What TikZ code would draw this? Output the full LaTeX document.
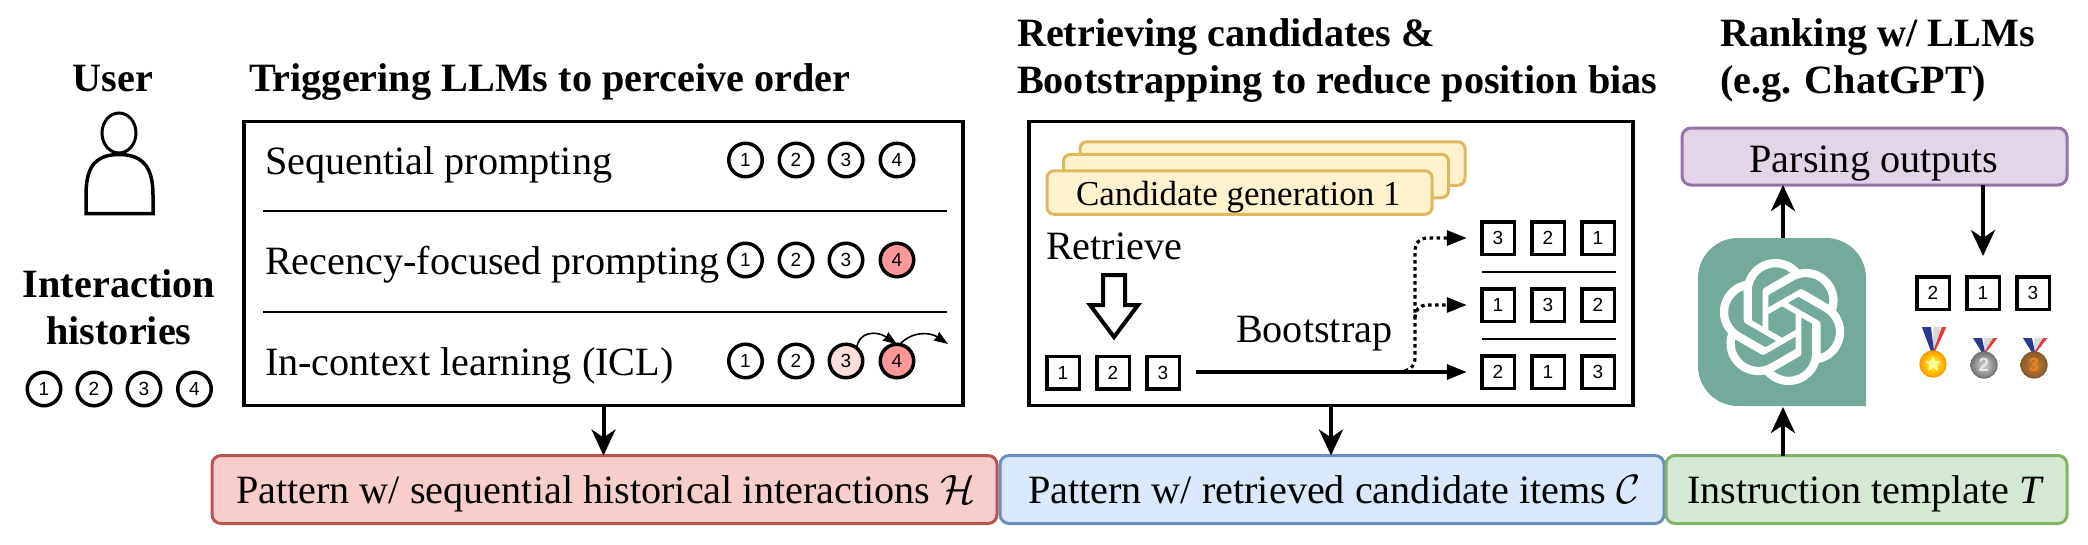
\documentclass[tikz,border=0pt]{standalone}
\usepackage{fontspec}
\setmainfont{Liberation Serif}
\setsansfont{Liberation Sans}
\usetikzlibrary{arrows.meta,svg.path,shapes.geometric}
\definecolor{redF}{HTML}{F8CECC}\definecolor{redD}{HTML}{B85450}
\definecolor{bluF}{HTML}{DAE8FC}\definecolor{bluD}{HTML}{6C8EBF}
\definecolor{grnF}{HTML}{D5E8D4}\definecolor{grnD}{HTML}{82B366}
\definecolor{purF}{HTML}{E1D5E7}\definecolor{purD}{HTML}{9673A6}
\definecolor{yelF}{HTML}{FFF2CC}\definecolor{yelD}{HTML}{DDB95C}
\definecolor{gptG}{HTML}{74AA9C}
\definecolor{pk}{HTML}{FF9999}\definecolor{pkl}{HTML}{FFDDDD}
\definecolor{rbB}{HTML}{2B3A8C}\definecolor{rbR}{HTML}{E03A3A}
\newcommand{\fs}[1]{\fontsize{#1}{#1}\selectfont}
\tikzset{
  every node/.style={inner sep=0pt,outer sep=0pt},
  txt/.style={anchor=base west,font=\fs{40.2}},
  ttl/.style={anchor=base west,font=\fs{40.2}\bfseries},
  itm/.style={circle,draw=black,line width=3.5pt,minimum size=33.5pt,font=\fs{19}\sffamily,fill=white},
  sq/.style={rectangle,draw=black,line width=3.5pt,minimum size=32.5pt,font=\fs{19}\sffamily,fill=white},
  panel/.style={rectangle,draw=black,line width=3.5pt,fill=white},
  pat/.style={rectangle,rounded corners=9pt,line width=3pt},
  sep/.style={line width=2pt,black},
  arr/.style={line width=4pt,black,-{Stealth[length=26pt,width=24pt,inset=8pt]}},
  mid/.style={line width=3.5pt,black,-{Stealth[length=20pt,width=15pt,inset=0pt]}},
  dots/.style={line width=3.2pt,black,dash pattern=on 3.5pt off 3.5pt,-{Stealth[length=20pt,width=15pt,inset=0pt]}},
  thinarr/.style={line width=1.6pt,black,-{Stealth[length=14pt,width=10pt,inset=1pt]}},
}
\newcommand{\medal}[7]{% x, y, r, ribbon top, name, fill-light, fill-dark
  \fill[rbR] (#1+#3*0.55+1.5,#4) -- (#1+#3*0.55+6,#4) -- (#1+2,#2-#3+1) -- (#1-1,#2-#3+1) -- cycle;
  \fill[white!85!black] (#1+#3*0.1-1,#4) -- (#1+#3*0.55+1.5,#4) -- (#1,#2-#3+1) -- cycle;
  \fill[rbB] (#1-#3*0.75-1,#4) -- (#1-#3*0.15,#4) -- (#1+1,#2-#3+1) -- (#1-2,#2-#3+1) -- cycle;
  \shade[inner color=#6,outer color=#7] (#1,#2) circle (#3);
  \draw[#7,line width=1pt] (#1,#2) circle (#3-0.5);
}
\begin{document}
\begin{tikzpicture}[x=1pt,y=-1pt]
\useasboundingbox (0,0) rectangle (2088,544);

% Titles
\node[ttl,anchor=base] (tUser) at (113,91) {User};
\node[ttl] (tTrig) at (249,91) {Triggering LLMs to perceive order};
\node[ttl,anchor=base] (tInt) at (119,297) {Interaction};
\node[ttl,anchor=base] (tHis) at (119,344) {histories};
\node[ttl] (tRet) at (1017,46) {Retrieving candidates \&};
\node[ttl] (tBoo) at (1017,93) {Bootstrapping to reduce position bias};
\node[ttl] (tRnk) at (1720,46) {Ranking w/ LLMs};
\node[ttl] (tChat) at (1720,93) {(e.g. ChatGPT)};

% User icon
\node[ellipse,draw=black,line width=3pt,minimum width=34pt,minimum height=40pt] (head) at (119,133) {};
\draw[line width=3.5pt,black,line join=miter] (86,213.5) -- (153,213.5) -- (153,195)
  .. controls (153,170) and (145,154.5) .. (119,154.5)
  .. controls (93,154.5) and (86,170) .. (86,195) -- cycle;

% Interaction histories
\node[itm] (h1) at (44,389) {1};
\node[itm] (h2) at (94,389) {2};
\node[itm] (h3) at (144,389) {3};
\node[itm] (h4) at (194.5,389) {4};

% Panel 1
\node[panel,minimum width=719pt,minimum height=284pt] (box1) at (603.5,263.5) {};
\node[txt] (p1) at (265,174.5) {Sequential prompting};
\node[txt] (p2) at (265,274) {Recency-focused prompting};
\node[txt] (p3) at (265,375.5) {In-context learning (ICL)};
\coordinate (s1a) at (263,211); \coordinate (s1b) at (947,211);
\coordinate (s2a) at (263,311.5); \coordinate (s2b) at (947,311.5);
\draw[sep] (s1a) -- (s1b);
\draw[sep] (s2a) -- (s2b);
\foreach \n/\x in {1/745.5,2/796,3/846,4/897}{\node[itm] (a\n) at (\x,160) {\n};}
\foreach \n/\x in {1/745.5,2/796,3/846}{\node[itm] (b\n) at (\x,260) {\n};}
\node[itm,fill=pk] (b4) at (897,260) {4};
\foreach \n/\x in {1/745.5,2/796}{\node[itm] (c\n) at (\x,361) {\n};}
\node[itm,fill=pkl] (c3) at (846,361) {3};
\node[itm,fill=pk] (c4) at (897,361) {4};
\coordinate (cEnd) at (948,344);
\draw[thinarr] (c3.north east) ++(-1,-1) .. controls (858,332) and (876,330) .. (c4.north);
\draw[thinarr] (c4.north) ++(3,0) .. controls (912,331) and (930,332) .. (cEnd);

% Panel 2
\node[panel,minimum width=604pt,minimum height=284pt] (box2) at (1331,263.5) {};
\node[rectangle,rounded corners=7pt,draw=yelD,fill=yelF,line width=3pt,minimum width=385pt,minimum height=43.5pt] (g3) at (1272.5,163.5) {};
\node[rectangle,rounded corners=7pt,draw=yelD,fill=yelF,line width=3pt,minimum width=385pt,minimum height=43.5pt] (g2) at (1256,176) {};
\node[rectangle,rounded corners=7pt,draw=yelD,fill=yelF,line width=3pt,minimum width=385pt,minimum height=43.5pt] (g1) at (1239.5,192.5) {};
\node[txt,font=\fs{35}] (gT) at (1076,205) {Candidate generation 1};
\node[txt] (rT) at (1046,259) {Retrieve};
\node[txt] (bT) at (1236,342) {Bootstrap};
\node[sq] (l1) at (1063,372.5) {1};
\node[sq] (l2) at (1113,372.5) {2};
\node[sq] (l3) at (1163,372.5) {3};
\draw[line width=4pt,black,fill=white,line join=miter] (1103,275) -- (1125,275) -- (1125,305) -- (1138,305) -- (1114,337) -- (1090,305) -- (1103,305) -- cycle;
\foreach \n/\x in {3/1498,2/1548,1/1598}{\node[sq] (tp\n) at (\x,238) {\n};}
\node[sq] (md1) at (1498,305) {1};
\node[sq] (md3) at (1548,305) {3};
\node[sq] (md2) at (1598,305) {2};
\node[sq] (bt2) at (1498,372) {2};
\node[sq] (bt1) at (1548,372) {1};
\node[sq] (bt3) at (1598,372) {3};
\coordinate (s3a) at (1482,272); \coordinate (s3b) at (1616,272);
\coordinate (s4a) at (1482,339); \coordinate (s4b) at (1616,339);
\draw[sep] (s3a) -- (s3b);
\draw[sep] (s4a) -- (s4b);
\coordinate (fork) at (1405,371);
\draw[mid,shorten <=17pt,shorten >=15pt] (l3.east) ++(0,-0.5) -- (bt2.west);
\draw[dots,shorten >=15pt] (fork) .. controls (1415,367) and (1415,362) .. (1415,355) -- (1415,252)
  .. controls (1415,243) and (1419,238) .. (1428,238) -- (tp3.west);
\draw[dots,shorten >=15pt] (1415,318) .. controls (1415,310) and (1419,305) .. (1428,305) -- (md1.west);

% Right column
\node[pat,draw=purD,fill=purF,minimum width=385pt,minimum height=57pt] (parse) at (1874.5,156.5) {};
\node[txt,anchor=base] (parseT) at (1874,172) {Parsing outputs};
\fill[gptG] (1698,278) arc[start angle=180,end angle=270,x radius=40pt,y radius=-40pt]
  -- (1826,238) arc[start angle=-90,end angle=0,x radius=40pt,y radius=-40pt]
  -- (1866,406) -- (1738,406) arc[start angle=90,end angle=180,x radius=40pt,y radius=-40pt] -- cycle;
\coordinate (gptTop) at (1783,238);
\coordinate (gptBot) at (1783,407);
\begin{scope}[cm={5.25,0,0,-5.25,(1719,259)}]
\fill[white,even odd rule] svg {M22.2819 9.8211a5.9847 5.9847 0 0 0 -.5157 -4.9108 6.0462 6.0462 0 0 0 -6.5098 -2.9A6.0651 6.0651 0 0 0 4.9807 4.1818a5.9847 5.9847 0 0 0 -3.9977 2.9 6.0462 6.0462 0 0 0 .7427 7.0966 5.98 5.98 0 0 0 .511 4.9107 6.051 6.051 0 0 0 6.5146 2.9001A5.9847 5.9847 0 0 0 13.2599 24a6.0557 6.0557 0 0 0 5.7718 -4.2058 5.9894 5.9894 0 0 0 3.9977 -2.9001 6.0557 6.0557 0 0 0 -.7475 -7.0729zm-9.022 12.6081a4.4755 4.4755 0 0 1 -2.8764 -1.0408l.1419 -.0804 4.7783 -2.7582a.7948 .7948 0 0 0 .3927 -.6813v-6.7369l2.02 1.1686l.038 .052v5.5826a4.504 4.504 0 0 1 -4.4945 4.4944zm-9.6607 -4.1254a4.4708 4.4708 0 0 1 -.5346 -3.0137l.142 .0852 4.783 2.7582a.7712 .7712 0 0 0 .7806 0l5.8428 -3.3685v2.3324l-.0332 .0615L9.74 19.9502a4.4992 4.4992 0 0 1 -6.1408 -1.6464zM2.3408 7.8956a4.485 4.485 0 0 1 2.3655 -1.9728V11.6a.7664 .7664 0 0 0 .3879 .6765l5.8144 3.3543 -2.0201 1.1685h-.071l-4.8303 -2.7865A4.504 4.504 0 0 1 2.3408 7.872zm16.5963 3.8558L13.1038 8.364 15.1192 7.2h.071l4.8303 2.7913a4.4944 4.4944 0 0 1 -.6765 8.1042v-5.6772a.79 .79 0 0 0 -.407 -.667zm2.0107 -3.0231l-.142 -.0852 -4.7735 -2.7818a.7759 .7759 0 0 0 -.7854 0L9.409 9.2297V6.8974l.0284 -.0615 4.8303 -2.7866a4.4992 4.4992 0 0 1 6.6802 4.66zM8.3065 12.863l-2.02 -1.1638l-.038 -.0567V6.0742a4.4992 4.4992 0 0 1 7.3757 -3.4537l-.142 .0805L8.704 5.459a.7948 .7948 0 0 0 -.3927 .6813zM9.4041 10.4976l2.602 -1.4998 2.6069 1.4998v2.9994l-2.5974 1.4997 -2.6067 -1.4997Z};
\end{scope}
\node[sq] (r2) at (1933,293) {2};
\node[sq] (r1) at (1983,293) {1};
\node[sq] (r3) at (2033,293) {3};
\medal{1933}{364}{13.5}{327}{g}{yellow!90!white}{orange!80!yellow}
\node[star,star points=5,star point ratio=2.2,fill=yellow!40!white,minimum size=17pt] (st) at (1933,364) {};
\medal{1984}{365}{13.5}{338}{s}{gray!35}{gray!90!black}
\node[font=\fs{19}\sffamily\bfseries,text=gray!20] (m2) at (1984,365) {2};
\medal{2034}{365}{13.5}{338}{b}{brown!90!orange}{brown!70!black}
\node[font=\fs{19}\sffamily\bfseries,text=orange!80!brown] (m3) at (2034,365) {3};

% Bottom boxes
\node[pat,draw=redD,fill=redF,minimum width=785pt,minimum height=68pt] (red) at (604.5,489.5) {};
\node[pat,draw=bluD,fill=bluF,minimum width=664pt,minimum height=68pt] (blu) at (1332,489.5) {};
\node[pat,draw=grnD,fill=grnF,minimum width=401pt,minimum height=68pt] (grn) at (1866.5,489.5) {};
\node[txt] (redT) at (236,503.5) {Pattern w/ sequential historical interactions \scalebox{1.65}{$\mathcal{H}$}};
\node[txt] (bluT) at (1028,503.5) {Pattern w/ retrieved candidate items \scalebox{1.65}{$\mathcal{C}$}};
\node[txt] (grnT) at (1687,503.5) {Instruction template \textit{T}};

% Connectors
\draw[arr] (box1.south) -- (box1.south |- red.north);
\draw[arr] (box2.south) -- (box2.south |- blu.north);
\draw[arr] (grn.north -| gptBot) -- (gptBot);
\draw[arr] (gptTop) -- (gptTop |- parse.south);
\coordinate (medTop) at (1983,256);
\draw[arr] (parse.south -| medTop) -- (medTop);
\end{tikzpicture}
\end{document}
